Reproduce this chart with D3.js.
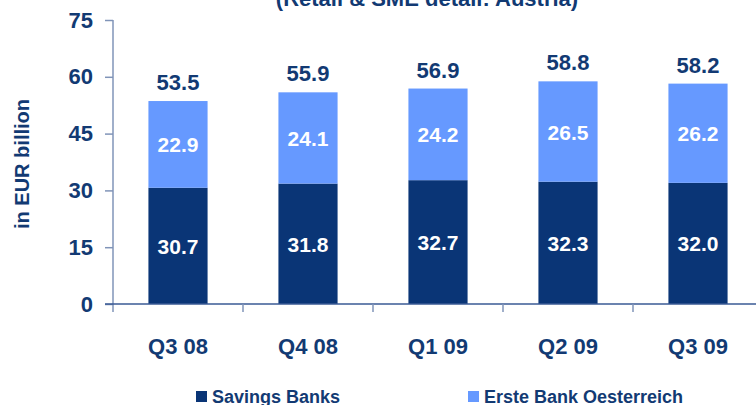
<!DOCTYPE html>
<html><head><meta charset="utf-8">
<script src="https://cdn.jsdelivr.net/npm/d3@7"></script>
<style>body{margin:0;background:#fff;}svg{display:block;font-family:"Liberation Sans",Arial,sans-serif;font-weight:bold;}</style>
</head><body>
<svg id="c" width="756" height="405"></svg>
<script>
const categories = ["Q3 08","Q4 08","Q1 09","Q2 09","Q3 09"];
const savingsBanks = [30.7,31.8,32.7,32.3,32.0];
const ersteBank = [22.9,24.1,24.2,26.5,26.2];
const totals = [53.5,55.9,56.9,58.8,58.2];
const yTicks = [0,15,30,45,60,75];
const seriesNames = ["Savings Banks","Erste Bank Oesterreich"];
const colors = ["#0A3576","#6699FF"];
const textColor = "#123A73";

const svg = d3.select("#c");
const x = d3.scaleBand().domain(categories).range([113,763]).paddingInner(0.545).paddingOuter(0.2725);
const y = d3.scaleLinear().domain([0,75]).range([304,20]);

// title (cut off at top)
svg.append("text").attr("x",427).attr("y",6).attr("text-anchor","middle")
  .attr("font-size",22).attr("fill",textColor).text("(Retail & SME detail: Austria)");

// y axis title
svg.append("text").attr("transform","translate(29,164) rotate(-90)").attr("text-anchor","middle")
  .attr("font-size",20).attr("fill",textColor).text("in EUR billion");

// bars
const data = categories.map((c,i)=>({c,a:savingsBanks[i],b:ersteBank[i],t:totals[i]}));
const g = svg.append("g");
g.selectAll(".sb").data(data).join("rect").attr("x",d=>x(d.c)).attr("width",x.bandwidth())
  .attr("y",d=>y(d.a)).attr("height",d=>y(0)-y(d.a)).attr("fill",colors[0]);
g.selectAll(".eb").data(data).join("rect").attr("x",d=>x(d.c)).attr("width",x.bandwidth())
  .attr("y",d=>y(d.a+d.b)).attr("height",d=>y(d.a)-y(d.a+d.b)).attr("fill",colors[1]);

// inner labels
g.selectAll(".la").data(data).join("text").attr("x",d=>x(d.c)+x.bandwidth()/2)
  .attr("y",d=>(y(d.a)+y(0))/2+8).attr("text-anchor","middle").attr("font-size",21).attr("fill","#fff")
  .text(d=>d.a.toFixed(1));
g.selectAll(".lb").data(data).join("text").attr("x",d=>x(d.c)+x.bandwidth()/2)
  .attr("y",d=>(y(d.a)+y(d.a+d.b))/2+8).attr("text-anchor","middle").attr("font-size",21).attr("fill","#fff")
  .text(d=>d.b.toFixed(1));
g.selectAll(".lt").data(data).join("text").attr("x",d=>x(d.c)+x.bandwidth()/2)
  .attr("y",d=>y(d.a+d.b)-11).attr("text-anchor","middle").attr("font-size",22).attr("fill",textColor)
  .text(d=>d.t.toFixed(1));

// y axis
const ya = svg.append("g").attr("transform","translate(113,0)")
  .call(d3.axisLeft(y).tickValues(yTicks).tickSize(8).tickPadding(12).tickFormat(d3.format("d")));
ya.select(".domain").remove();
ya.append("line").attr("x1",0).attr("x2",0).attr("y1",y(75)).attr("y2",312).attr("stroke","#8094B8").attr("stroke-width",1.5);
ya.selectAll(".tick line").attr("stroke","#8094B8").attr("stroke-width",1.5);
ya.selectAll(".tick text").attr("font-size",22).attr("fill",textColor).attr("font-family","Liberation Sans,Arial,sans-serif").attr("font-weight","bold");

// x axis
const xa = svg.append("g").attr("transform","translate(0,304)")
  .call(d3.axisBottom(x).tickSize(0).tickPadding(34));
xa.select(".domain").remove();
xa.append("line").attr("x1",105).attr("x2",756).attr("y1",0).attr("y2",0).attr("stroke","#3A5A95").attr("stroke-width",1.5);
xa.selectAll(".bt").data(categories.slice(1)).join("line")
  .attr("x1",d=>x(d)-x.step()*x.paddingInner()/2).attr("x2",d=>x(d)-x.step()*x.paddingInner()/2)
  .attr("y1",0).attr("y2",8).attr("stroke","#8094B8").attr("stroke-width",1.5);
xa.selectAll(".tick text").attr("font-size",22).attr("fill",textColor).attr("font-family","Liberation Sans,Arial,sans-serif").attr("font-weight","bold");

// legend
const legX = [196,468];
const leg = svg.append("g");
seriesNames.forEach((n,i)=>{
  leg.append("rect").attr("x",legX[i]).attr("y",391).attr("width",11).attr("height",11).attr("fill",colors[i]);
  leg.append("text").attr("x",legX[i]+16).attr("y",403).attr("font-size",18).attr("fill",textColor).text(n);
});
</script>
</body></html>
